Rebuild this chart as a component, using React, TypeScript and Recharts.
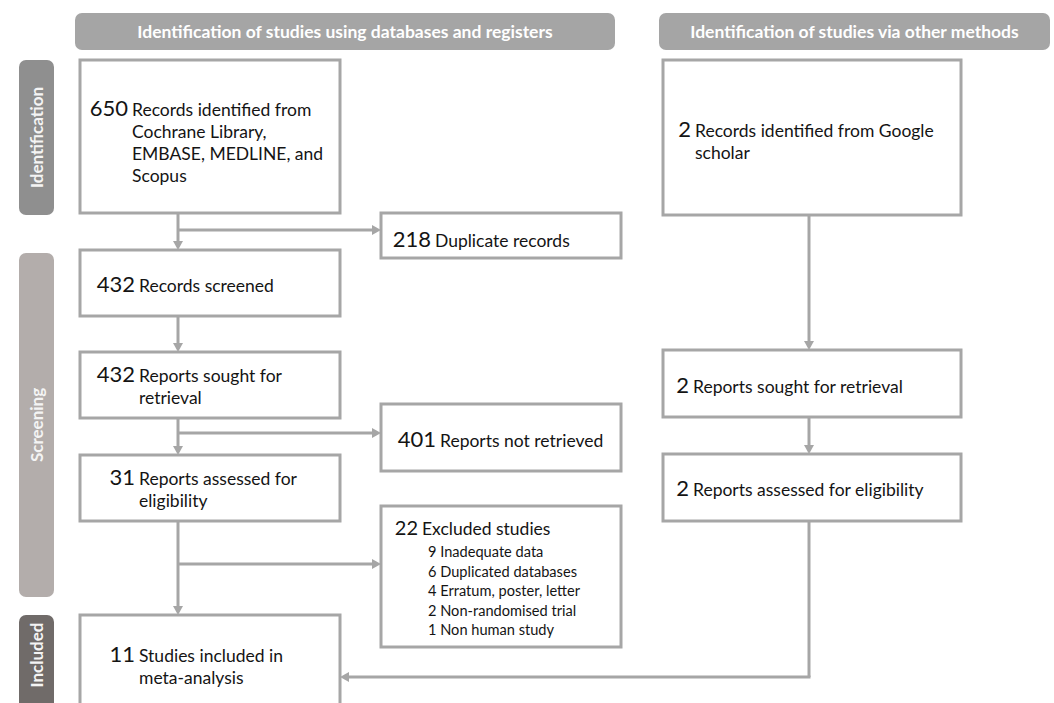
import React from 'react';
import { ComposedChart, XAxis, YAxis, ReferenceArea, ReferenceLine } from 'recharts';

// PRISMA flow: texts and counts
const headers = [
  'Identification of studies using databases and registers',
  'Identification of studies via other methods',
];
const stages = ['Identification', 'Screening', 'Included'];
const counts = [650, 218, 432, 432, 401, 31, 22, 11, 2, 2, 2];
const labels = [
  ['Records identified from', 'Cochrane Library,', 'EMBASE, MEDLINE, and', 'Scopus'],
  ['Duplicate records'],
  ['Records screened'],
  ['Reports sought for', 'retrieval'],
  ['Reports not retrieved'],
  ['Reports assessed for', 'eligibility'],
  ['Excluded studies'],
  ['Studies included in', 'meta-analysis'],
  ['Records identified from Google', 'scholar'],
  ['Reports sought for retrieval'],
  ['Reports assessed for eligibility'],
];
const excludedCounts = [9, 6, 4, 2, 1];
const excludedReasons = [
  'Inadequate data',
  'Duplicated databases',
  'Erratum, poster, letter',
  'Non-randomised trial',
  'Non human study',
];

// layout, in chart units (axes span the whole frame)
const W = 1054;
const H = 703;
const headerBoxes = [
  { x1: 75, x2: 615, y1: 13, y2: 50 },
  { x1: 659, x2: 1050, y1: 13, y2: 50 },
];
const stageBoxes = [
  { y1: 60, y2: 215, fill: '#8f8f8f', mid: 0.5 },
  { y1: 253, y2: 597, fill: '#b3adab', mid: 0.5 },
  { y1: 615, y2: 716, fill: '#706b69', mid: 0.4 },
];
const boxes = [
  { x1: 80, x2: 340, y1: 60, y2: 213, tx: 132, ty: 116 },
  { x1: 381, x2: 621, y1: 213, y2: 258, tx: 435, ty: 247 },
  { x1: 80, x2: 340, y1: 250, y2: 316, tx: 139, ty: 292 },
  { x1: 80, x2: 340, y1: 352, y2: 418, tx: 139, ty: 382 },
  { x1: 381, x2: 621, y1: 404, y2: 471, tx: 440, ty: 447 },
  { x1: 80, x2: 340, y1: 455, y2: 521, tx: 139, ty: 485 },
  { x1: 381, x2: 621, y1: 506, y2: 647, tx: 422, ty: 535 },
  { x1: 80, x2: 340, y1: 615, y2: 716, tx: 139, ty: 662 },
  { x1: 663, x2: 961, y1: 60, y2: 215, tx: 695, ty: 137 },
  { x1: 663, x2: 961, y1: 350, y2: 417, tx: 693, ty: 393 },
  { x1: 663, x2: 961, y1: 454, y2: 521, tx: 693, ty: 496 },
];
const leftX = 178;
const rightX = 809;
// [from box, to box, column x]
const downFlows = [
  [0, 2, leftX],
  [2, 3, leftX],
  [3, 5, leftX],
  [5, 7, leftX],
  [8, 9, rightX],
  [9, 10, rightX],
];
// [target box, branch y]
const sideFlows = [
  [1, 230],
  [4, 433],
  [6, 564],
];
const joinY = 677;

const GRAY = '#a6a6a6';
const INK = '#141414';
const FONT = 'Lato, "Open Sans", sans-serif';

function Arrow(p: any) {
  const { x1, y1, x2, y2, head } = p;
  const dx = x2 - x1;
  const dy = y2 - y1;
  const len = Math.hypot(dx, dy) || 1;
  const ux = dx / len;
  const uy = dy / len;
  const L = head ? 9 : 0;
  const hw = 5;
  const bx = x2 - ux * L;
  const by = y2 - uy * L;
  return (
    <g>
      <line x1={x1} y1={y1} x2={bx} y2={by} stroke={GRAY} strokeWidth={3} />
      {head && (
        <polygon
          points={`${x2},${y2} ${bx - uy * hw},${by + ux * hw} ${bx + uy * hw},${by - ux * hw}`}
          fill={GRAY}
        />
      )}
    </g>
  );
}

function BoxShape(p: any, i: number) {
  const { x, y, width, height } = p;
  const b = boxes[i];
  const n = counts[i];
  const lines = labels[i];
  const excl = i === 6;
  return (
    <g>
      <rect x={x} y={y} width={width} height={height} fill="#fff" stroke={GRAY} strokeWidth={3} />
      <text x={b.tx - 4} y={b.ty} textAnchor="end" fontFamily={FONT} fontSize={excl ? 20 : 22} fill={INK}>
        {n}
      </text>
      {lines.map((t, k) => (
        <text key={k} x={b.tx} y={b.ty + k * 22} fontFamily={FONT} fontSize={17.5} fill={INK}>
          {t}
        </text>
      ))}
      {excl &&
        excludedReasons.map((r, k) => (
          <text key={r} x={b.tx + 6} y={b.ty + 22 + k * 19.5} fontFamily={FONT} fontSize={14.6} fill={INK}>
            {`${excludedCounts[k]} ${r}`}
          </text>
        ))}
    </g>
  );
}

export default function App() {
  return (
    <div style={{ position: 'absolute', left: 0, top: 0, width: W, height: H, background: '#fff' }}>
      <ComposedChart width={W} height={H} data={[]} margin={{ top: 0, right: 0, bottom: 0, left: 0 }}>
        <XAxis type="number" dataKey="x" domain={[0, W]} hide allowDataOverflow />
        <YAxis type="number" dataKey="y" domain={[0, H]} reversed hide allowDataOverflow />

        {headerBoxes.map((h, i) => (
          <ReferenceArea
            key={'h' + i}
            x1={h.x1}
            x2={h.x2}
            y1={h.y1}
            y2={h.y2}
            ifOverflow="visible"
            shape={(p: any) => (
              <g>
                <rect x={p.x} y={p.y} width={p.width} height={p.height} rx={7} fill="#a5a5a5" />
                <text
                  x={p.x + p.width / 2}
                  y={p.y + p.height / 2 + 6}
                  textAnchor="middle"
                  fontFamily={FONT}
                  fontWeight={700}
                  fontSize={17.5}
                  fill="#fff"
                >
                  {headers[i]}
                </text>
              </g>
            )}
          />
        ))}

        {stageBoxes.map((s, i) => (
          <ReferenceArea
            key={'s' + i}
            x1={19}
            x2={54}
            y1={s.y1}
            y2={s.y2}
            ifOverflow="visible"
            shape={(p: any) => {
              const cx = p.x + p.width / 2;
              const cy = i === 2 ? p.y + 40 : p.y + p.height * s.mid;
              return (
                <g>
                  <rect x={p.x} y={p.y} width={p.width} height={p.height} rx={7} fill={s.fill} />
                  <text
                    x={cx}
                    y={cy}
                    dy={6}
                    transform={`rotate(-90 ${cx} ${cy})`}
                    textAnchor="middle"
                    fontFamily={FONT}
                    fontWeight={700}
                    fontSize={17}
                    fill="#f4f4f4"
                  >
                    {stages[i]}
                  </text>
                </g>
              );
            }}
          />
        ))}

        {downFlows.map(([a, b, cx], i) => (
          <ReferenceLine
            key={'d' + i}
            segment={[
              { x: cx, y: boxes[a].y2 },
              { x: cx, y: boxes[b].y1 },
            ]}
            ifOverflow="visible"
            shape={(p: any) => <Arrow {...p} head />}
          />
        ))}

        {sideFlows.map(([t, y], i) => (
          <ReferenceLine
            key={'sf' + i}
            segment={[
              { x: leftX, y },
              { x: boxes[t].x1, y },
            ]}
            ifOverflow="visible"
            shape={(p: any) => <Arrow {...p} head />}
          />
        ))}

        <ReferenceLine
          segment={[
            { x: rightX, y: boxes[10].y2 },
            { x: rightX, y: joinY },
          ]}
          ifOverflow="visible"
          shape={(p: any) => <Arrow {...p} head={false} />}
        />
        <ReferenceLine
          segment={[
            { x: rightX + 1.5, y: joinY },
            { x: boxes[7].x2, y: joinY },
          ]}
          ifOverflow="visible"
          shape={(p: any) => <Arrow {...p} head />}
        />

        {boxes.map((b, i) => (
          <ReferenceArea
            key={'b' + i}
            x1={b.x1}
            x2={b.x2}
            y1={b.y1}
            y2={b.y2}
            ifOverflow="visible"
            shape={(p: any) => BoxShape(p, i)}
          />
        ))}
      </ComposedChart>
    </div>
  );
}
